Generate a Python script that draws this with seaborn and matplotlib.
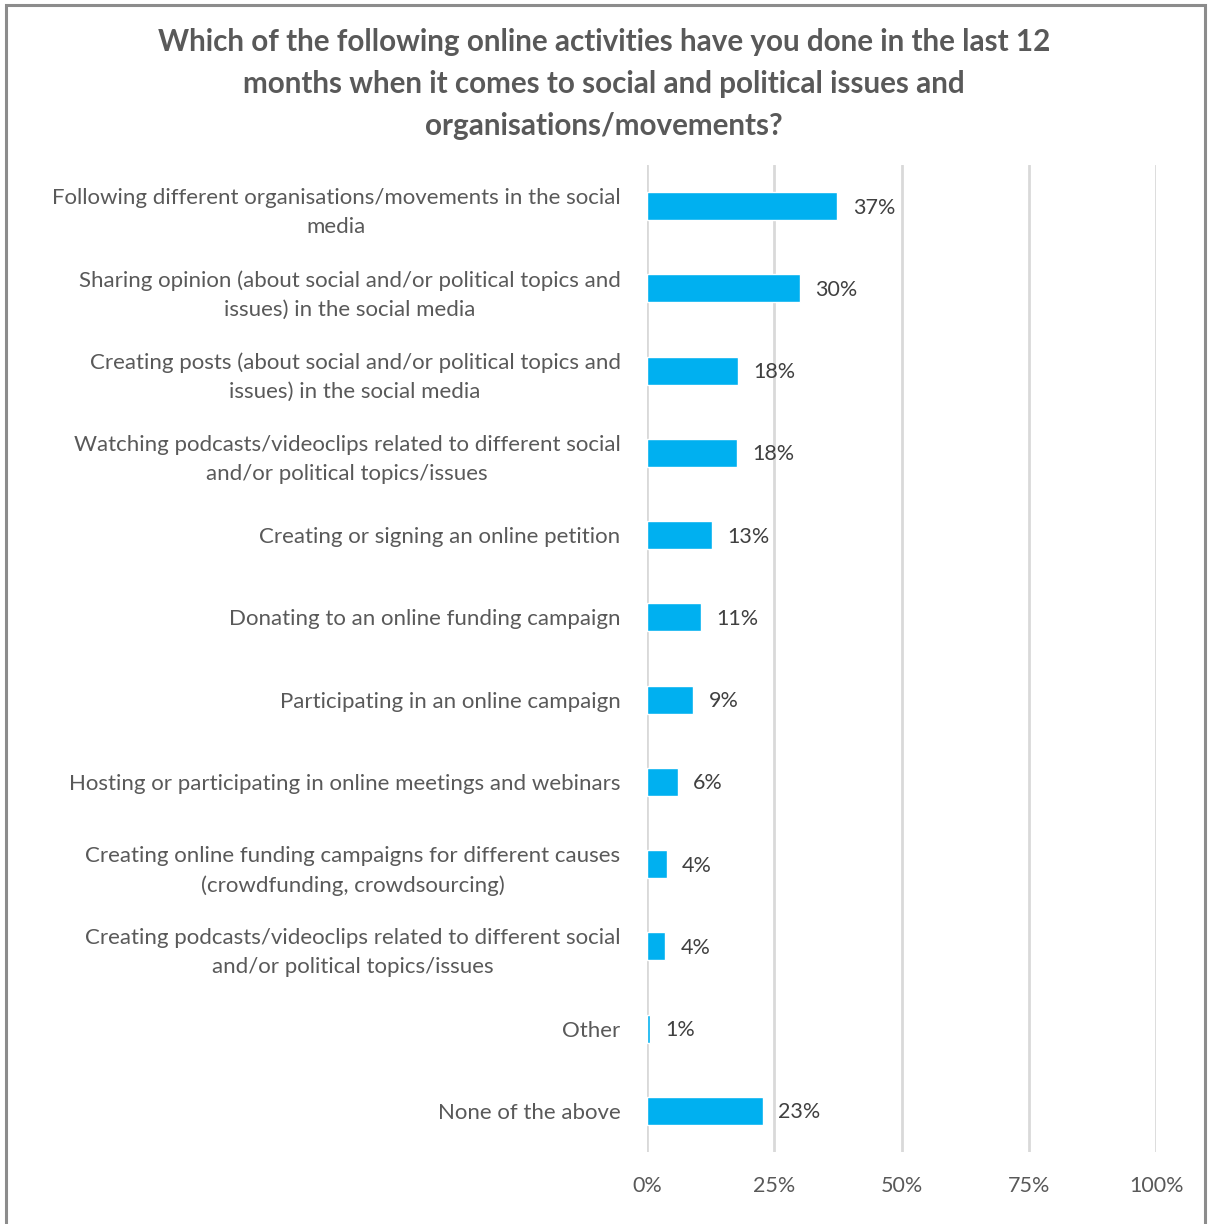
import matplotlib
matplotlib.use("Agg")
import matplotlib.pyplot as plt
import matplotlib.patches as mpatches
import seaborn as sns
import pandas as pd

activities = [
    "Following different organisations/movements in the social\nmedia",
    "Sharing opinion (about social and/or political topics and\nissues) in the social media",
    "Creating posts (about social and/or political topics and\nissues) in the social media",
    "Watching podcasts/videoclips related to different social\nand/or political topics/issues",
    "Creating or signing an online petition",
    "Donating to an online funding campaign",
    "Participating in an online campaign",
    "Hosting or participating in online meetings and webinars",
    "Creating online funding campaigns for different causes\n(crowdfunding, crowdsourcing)",
    "Creating podcasts/videoclips related to different social\nand/or political topics/issues",
    "Other",
    "None of the above",
]
shares = [37.4, 30.0, 17.9, 17.6, 12.8, 10.6, 9.1, 6.0, 3.9, 3.6, 0.6, 22.7]
x_ticks = [0, 25, 50, 75, 100]
x_tick_labels = ["0%", "25%", "50%", "75%", "100%"]

title = ("Which of the following online activities have you done in the last 12\n"
         "months when it comes to social and political issues and\n"
         "organisations/movements?")

df = pd.DataFrame({"activity": activities, "share": shares})

sns.set_style("white")
plt.rcParams["font.family"] = ["Lato", "DejaVu Sans"]

TEXT = "#595959"
BAR = "#00B0F0"

fig = plt.figure(figsize=(12.08, 12.24), dpi=100)
ax = fig.add_axes([0.5356, 0.0588, 0.4214, 0.8064])

sns.barplot(data=df, x="share", y="activity", orient="h", color=BAR,
            width=0.34, ax=ax, saturation=1)

ax.set_xlim(0, 100)
ax.set_ylim(11.5, -0.5)
ax.set_xticks(x_ticks)
ax.set_xticklabels(x_tick_labels, fontsize=15.5, color=TEXT)
ax.set_xlabel("")
ax.set_ylabel("")
ax.grid(axis="x", color="#d9d9d9", linewidth=2)
ax.set_axisbelow(True)
for s in ax.spines.values():
    s.set_visible(False)
ax.tick_params(axis="x", length=0, pad=17)
ax.tick_params(axis="y", length=0, pad=19)
for lbl in ax.get_yticklabels():
    lbl.set_fontsize(16)
    lbl.set_color(TEXT)
    lbl.set_multialignment("center")
    lbl.set_linespacing(1.55)

for i, v in enumerate(shares):
    ax.annotate(f"{round(v)}%", xy=(v, i), xytext=(11, -1), textcoords="offset points",
                ha="left", va="center", fontsize=15.5, color="#404040")

fig.text(0.5, 0.977, title, ha="center", va="top", fontsize=21.3,
         fontweight="bold", color=TEXT, linespacing=1.6)

# outer frame of the chart area
frame = mpatches.Rectangle((6 / 1208, -0.05), 1199 / 1208, 1.05 - 5 / 1224,
                           transform=fig.transFigure, fill=False,
                           edgecolor="#8c8c8c", linewidth=2.2, clip_on=False)
fig.patches.append(frame)

fig.savefig("out.png", dpi=100, facecolor="white")
